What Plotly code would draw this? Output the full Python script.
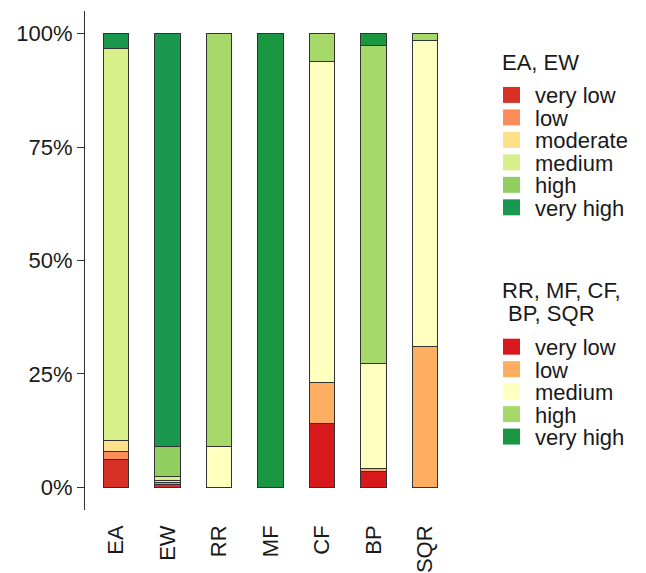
import plotly.graph_objects as go

# ---------------- data ----------------
cats_a = ["EA", "EW"]
levels_a = ["very low", "low", "moderate", "medium", "high", "very high"]
colors_a = ["#D73027", "#FC8D59", "#FEE08B", "#D9EF8B", "#91CF60", "#1A9850"]
EA = [6.1, 1.8, 2.35, 86.45, 0.0, 3.3]
EW = [0.6, 0.4, 0.5, 0.9, 6.6, 91.0]

cats_b = ["RR", "MF", "CF", "BP", "SQR"]
levels_b = ["very low", "low", "medium", "high", "very high"]
colors_b = ["#D7191C", "#FDAE61", "#FFFFBF", "#A6D96A", "#1A9641"]
RR = [0.0, 0.0, 8.9, 91.1, 0.0]
MF = [0.0, 0.0, 0.0, 0.0, 100.0]
CF = [14.1, 9.0, 70.7, 6.2, 0.0]
BP = [3.4, 0.8, 23.0, 70.2, 2.6]
SQR = [0.0, 31.0, 67.5, 1.5, 0.0]

all_cats = cats_a + cats_b
tick_vals = [0, 25, 50, 75, 100]
tick_text = ["0%", "25%", "50%", "75%", "100%"]

legend_a_title = ["EA, EW"]
legend_b_title = ["RR, MF, CF,", " BP, SQR"]

FONT = "Liberation Sans, Arial, sans-serif"
TXT = "#1a1a1a"
OUTLINE = "#333333"

fig = go.Figure()

data_a = [EA, EW]
for i, lev in enumerate(levels_a):
    ys = [None if s[i] == 0 else s[i] for s in data_a]
    fig.add_trace(go.Bar(x=cats_a, y=ys, name=lev, marker_color=colors_a[i],
                         marker_line=dict(color=OUTLINE, width=1), width=0.5,
                         showlegend=False))

data_b = [RR, MF, CF, BP, SQR]
for i, lev in enumerate(levels_b):
    ys = [None if s[i] == 0 else s[i] for s in data_b]
    fig.add_trace(go.Bar(x=cats_b, y=ys, name=lev, marker_color=colors_b[i],
                         marker_line=dict(color=OUTLINE, width=1), width=0.5,
                         showlegend=False))

# page has an 8px body margin, so compensate
OFF = 8
W, H = 646, 573
L, T = 85 - OFF, 11 - OFF
pw, ph = 371, 499.5
R = W - L - pw
B = H - T - ph


def px2x(px):
    return (px - OFF - L) / pw


def px2y(py):
    return (T + ph - (py - OFF)) / ph


shapes = []
annotations = []


def draw_legend(title_lines, title_y, labels, colors, first_y, step=22.5):
    for j, line in enumerate(title_lines):
        annotations.append(dict(text=line, x=px2x(500), y=px2y(title_y + j * 23),
                                xref="paper", yref="paper",
                                xanchor="left", yanchor="middle", showarrow=False, align="left",
                                font=dict(family=FONT, size=22, color=TXT)))
    for k, (lab, col) in enumerate(zip(labels, colors)):
        cy = first_y + k * step
        shapes.append(dict(type="rect", xref="paper", yref="paper",
                           x0=px2x(503), x1=px2x(520), y0=px2y(cy + 8), y1=px2y(cy - 8),
                           fillcolor=col, line=dict(width=0)))
        annotations.append(dict(text=lab, x=px2x(533), y=px2y(cy + 1), xref="paper", yref="paper",
                                xanchor="left", yanchor="middle", showarrow=False,
                                font=dict(family=FONT, size=22, color=TXT)))


draw_legend(legend_a_title, 63, levels_a, colors_a, 95)
draw_legend(legend_b_title, 291, levels_b, colors_b, 347)

fig.update_layout(
    barmode="stack",
    width=W, height=H,
    margin=dict(l=L, r=R, t=T, b=B, autoexpand=False),
    paper_bgcolor="white", plot_bgcolor="white",
    font=dict(family=FONT, size=22, color=TXT),
    shapes=shapes, annotations=annotations,
)
fig.update_xaxes(categoryorder="array", categoryarray=all_cats, range=[-0.6, 6.6],
                 showline=False, showgrid=False, zeroline=False, ticks="",
                 tickangle=-90, tickfont=dict(family=FONT, size=22, color=TXT),
                 ticklabelstandoff=10)
fig.update_yaxes(range=[-5, 105], tickvals=tick_vals, ticktext=tick_text,
                 showline=True, linecolor=OUTLINE, linewidth=1,
                 ticks="outside", ticklen=7, tickcolor=OUTLINE, tickwidth=1,
                 showgrid=False, zeroline=False,
                 tickfont=dict(family=FONT, size=22, color=TXT))

fig.write_html("out.html")
